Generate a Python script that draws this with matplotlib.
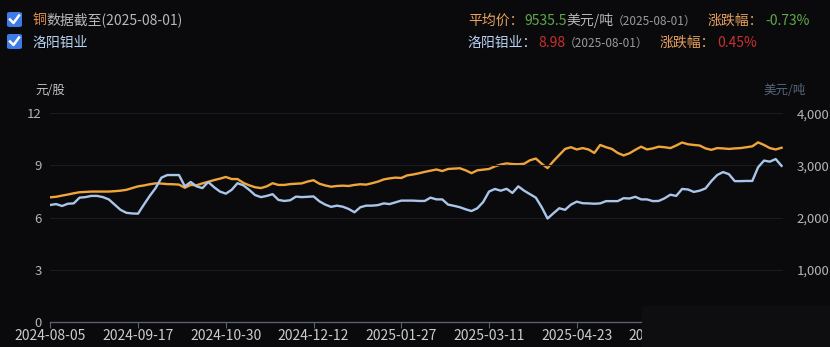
import numpy as np
import matplotlib
matplotlib.use("Agg")
import matplotlib.pyplot as plt
from matplotlib.patches import FancyBboxPatch, Rectangle
from matplotlib.lines import Line2D

plt.rcParams['font.family'] = ['Noto Sans CJK SC', 'DejaVu Sans']

# ---------------- data ----------------
# sampled every 2 trading days, starting 2024-08-05, ending 2025-08-01
molybdenum = [
    6.73, 6.78, 6.67, 6.80, 6.82, 7.15, 7.18, 7.25, 7.25, 7.18,
    7.05, 6.75, 6.45, 6.28, 6.24, 6.23, 6.75, 7.25, 7.70, 8.30,
    8.45, 8.45, 8.45, 7.80, 8.05, 7.80, 7.70, 8.05, 7.75, 7.50,
    7.38, 7.60, 7.98, 7.86, 7.60, 7.30, 7.18, 7.25, 7.35, 7.02,
    6.96, 7.00, 7.21, 7.18, 7.20, 7.22, 6.94, 6.75, 6.62, 6.69,
    6.63, 6.50, 6.31, 6.60, 6.69, 6.69, 6.72, 6.82, 6.78, 6.88,
    6.98, 6.98, 6.98, 6.96, 6.96, 7.15, 7.05, 7.05, 6.75, 6.68,
    6.60, 6.48, 6.38, 6.54, 6.90, 7.50, 7.65, 7.55, 7.66, 7.42,
    7.80, 7.55, 7.35, 7.15, 6.60, 5.95, 6.25, 6.54, 6.45, 6.75,
    6.92, 6.83, 6.82, 6.80, 6.82, 6.95, 6.95, 6.95, 7.12, 7.10,
    7.20, 7.05, 7.05, 6.95, 6.96, 7.11, 7.32, 7.25, 7.65, 7.62,
    7.48, 7.55, 7.68, 8.10, 8.45, 8.62, 8.50, 8.10, 8.10, 8.11,
    8.11, 8.90, 9.28, 9.22, 9.37, 8.98,
]
copper = [
    2390, 2400, 2423, 2443, 2467, 2487, 2493, 2500, 2500, 2500,
    2500, 2507, 2517, 2533, 2567, 2600, 2617, 2640, 2657, 2653,
    2643, 2640, 2633, 2573, 2627, 2620, 2657, 2687, 2720, 2747,
    2780, 2740, 2740, 2667, 2620, 2583, 2567, 2600, 2660, 2627,
    2627, 2643, 2650, 2657, 2693, 2717, 2650, 2617, 2593, 2607,
    2613, 2607, 2627, 2640, 2633, 2660, 2690, 2733, 2753, 2767,
    2760, 2810, 2827, 2850, 2877, 2900, 2923, 2893, 2933, 2940,
    2947, 2907, 2853, 2907, 2920, 2933, 2983, 3017, 3040, 3027,
    3023, 3033, 3100, 3133, 3033, 2950, 3083, 3200, 3317, 3350,
    3307, 3333, 3307, 3240, 3393, 3350, 3317, 3240, 3193, 3233,
    3300, 3360, 3307, 3327, 3360, 3350, 3333, 3383, 3440, 3407,
    3393, 3383, 3327, 3300, 3333, 3327, 3317, 3327, 3333, 3350,
    3367, 3443, 3393, 3333, 3307, 3340,
]
date_labels = ['2024-08-05', '2024-09-17', '2024-10-30', '2024-12-12',
               '2025-01-27', '2025-03-11', '2025-04-23', '2025-06-05',
               '2025-07-18']
left_ticks = [0, 3, 6, 9, 12]
right_ticks = [0, 1000, 2000, 3000, 4000]

# ---------------- style ----------------
BG = '#0a0a0c'
ORANGE = '#f0a53a'
BLUE = '#a9c6ea'
GRID = '#1c1c20'
TICK = '#b4b4b4'

W, H = 830, 347
fig = plt.figure(figsize=(W / 100, H / 100), dpi=100, facecolor=BG)

def fx(x):
    return x / W

def fy(y):
    return 1 - y / H

ax = fig.add_axes([fx(50.3), fy(322), fx(783) - fx(50.3), fy(113.3) - fy(322)])
ax.set_facecolor(BG)
ax2 = ax.twinx()

x_mo = np.arange(len(molybdenum)) * 2
x_cu = np.arange(len(copper)) * 2

ax2.plot(x_cu, copper, color=ORANGE, lw=1.7, zorder=3)
ax.plot(x_mo, molybdenum, color=BLUE, lw=1.7, zorder=3)
ax.set_zorder(ax2.get_zorder() + 1)
ax.patch.set_visible(False)

ax.set_xlim(0, 250.5)
ax.set_ylim(0, 12)
ax2.set_ylim(0, 4000)
ax.set_yticks(left_ticks)
ax.set_yticklabels([str(v) for v in left_ticks])
ax2.set_yticks(right_ticks)
ax2.set_yticklabels([f'{v:,}' for v in right_ticks])

ax.set_xticks(np.arange(len(date_labels)) * 30)
ax.set_xticklabels(date_labels)

for a in (ax, ax2):
    for s in a.spines.values():
        s.set_visible(False)
ax.spines['bottom'].set_visible(True)
ax.spines['bottom'].set_color('#5a606c')
ax.spines['bottom'].set_linewidth(1.0)

ax.grid(axis='y', color=GRID, lw=0.8)
ax.tick_params(axis='y', length=0, colors=TICK, labelsize=9.5, pad=6)
ax2.tick_params(axis='y', length=0, colors=TICK, labelsize=9.5, pad=10)
ax.tick_params(axis='x', length=4, color='#5a606c', colors=TICK, labelsize=10, pad=1)
for lbl in ax.get_xticklabels():
    lbl.set_color('#cccccc')

# axis unit labels
fig.text(fx(35), fy(90), '元/股', color='#c0c0c0', fontsize=9, ha='left', va='center')
fig.text(fx(806), fy(90), '美元/吨', color='#56657a', fontsize=9, ha='right', va='center')

# checkboxes + legend labels
def checkbox(x0, y0):
    box = FancyBboxPatch((fx(x0), fy(y0 + 15)), fx(15), 15 / H,
                         boxstyle='round,pad=0,rounding_size=0.004',
                         transform=fig.transFigure, facecolor='#3d7be8',
                         edgecolor='none')
    fig.patches.append(box)
    fig.lines.append(Line2D([fx(x0 + 3), fx(x0 + 6.5), fx(x0 + 12)],
                            [fy(y0 + 7.5), fy(y0 + 11), fy(y0 + 3.5)],
                            transform=fig.transFigure, color='white', lw=1.8))

checkbox(7, 12)
checkbox(7, 34)
fig.text(fx(33), fy(20), '铜', color='#e0904e', fontsize=10, ha='left', va='center')
fig.text(fx(46.5), fy(20), '数据截至(2025-08-01)', color='#b8b8b8', fontsize=10,
         ha='left', va='center')
fig.text(fx(33), fy(43), '洛阳钼业', color='#b9d2f2', fontsize=10, ha='left', va='center')

# top-right info
fs = 10
fig.text(fx(468), fy(21), '平均价：', color='#e8a25e', fontsize=fs, ha='left', va='center')
fig.text(fx(524), fy(21), '9535.5', color='#5fa84a', fontsize=fs, ha='left', va='center')
fig.text(fx(566), fy(21), '美元/吨', color='#b8b8b8', fontsize=fs, ha='left', va='center')
fig.text(fx(612), fy(21), '（2025-08-01）', color='#9a9a9a', fontsize=8.5, ha='left', va='center')
fig.text(fx(708), fy(21), '涨跌幅：', color='#e8a25e', fontsize=fs, ha='left', va='center')
fig.text(fx(765), fy(21), '-0.73%', color='#5fa84a', fontsize=fs, ha='left', va='center')

fig.text(fx(468), fy(43), '洛阳钼业：', color='#b9d2f2', fontsize=fs, ha='left', va='center')
fig.text(fx(538), fy(43), '8.98', color='#c8302e', fontsize=fs, ha='left', va='center')
fig.text(fx(564), fy(43), '（2025-08-01）', color='#9a9a9a', fontsize=8.5, ha='left', va='center')
fig.text(fx(660), fy(43), '涨跌幅：', color='#e8a25e', fontsize=fs, ha='left', va='center')
fig.text(fx(717), fy(43), '0.45%', color='#c8302e', fontsize=fs, ha='left', va='center')

# watermark patch in the bottom-right corner
fig.patches.append(Rectangle((fx(642), 0), 1 - fx(642), fy(306), transform=fig.transFigure,
                             facecolor='#0e0e10', edgecolor='none', zorder=10))

fig.savefig('out.png', dpi=100, facecolor=BG)
